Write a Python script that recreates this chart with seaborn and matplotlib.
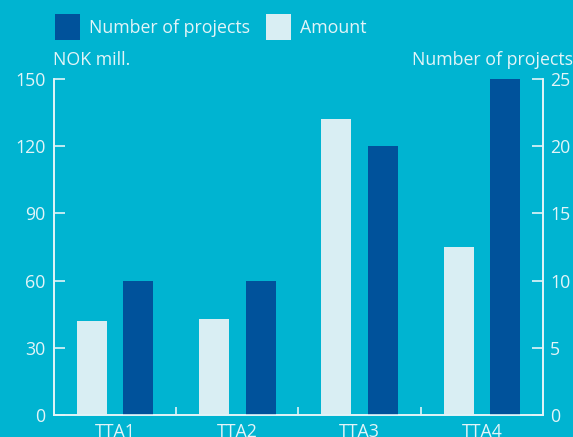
import numpy as np
import pandas as pd
import matplotlib
matplotlib.use("Agg")
import matplotlib.pyplot as plt
import seaborn as sns
from matplotlib.patches import Patch
from matplotlib.ticker import FixedLocator

categories = ["TTA1", "TTA2", "TTA3", "TTA4"]
amount = [42, 43, 132, 75]          # NOK mill.
projects = [10, 10, 20, 25]         # number of projects

bg = "#00b4d1"
light = "#d9eef3"
dark = "#00529b"
fg = "#e3f4f8"

sns.set_theme(style="white")
plt.rcParams["font.family"] = ["Open Sans", "DejaVu Sans"]
plt.rcParams["font.size"] = 12.8

order = ["Amount", "Number of projects"]
df_left = pd.DataFrame({"cat": categories * 2,
                        "series": ["Amount"] * 4 + ["Number of projects"] * 4,
                        "value": amount + [np.nan] * 4})
df_right = pd.DataFrame({"cat": categories * 2,
                         "series": ["Amount"] * 4 + ["Number of projects"] * 4,
                         "value": [np.nan] * 4 + projects})

fig = plt.figure(figsize=(5.73, 4.37), dpi=100, facecolor=bg)
ax = fig.add_axes([0.0942, 0.0503, 0.8534, 0.769])
ax.set_facecolor(bg)
ax2 = ax.twinx()

pal = {"Amount": light, "Number of projects": dark}
sns.barplot(data=df_left, x="cat", y="value", hue="series", hue_order=order,
            palette=pal, width=0.76, gap=0.355, saturation=1, ax=ax,
            legend=False, errorbar=None, linewidth=0)
sns.barplot(data=df_right, x="cat", y="value", hue="series", hue_order=order,
            palette=pal, width=0.76, gap=0.355, saturation=1, ax=ax2,
            legend=False, errorbar=None, linewidth=0)

ax.set_xlim(-0.5, 3.5)
ax.set_ylim(0, 150)
ax2.set_ylim(0, 25)
ax.set_yticks([0, 30, 60, 90, 120, 150])
ax2.set_yticks([0, 5, 10, 15, 20, 25])
ax.set_xlabel("")
ax.set_ylabel("")
ax2.set_ylabel("")

for a in (ax, ax2):
    for s in a.spines.values():
        s.set_color(fg)
        s.set_linewidth(1.2)
    a.spines["top"].set_visible(False)

ax.tick_params(axis="y", direction="in", length=8, width=1.2, color=fg,
               labelcolor=fg, pad=6, labelsize=12.8)
ax2.tick_params(axis="y", direction="in", length=8, width=1.2, color=fg,
                labelcolor=fg, pad=5, labelsize=12.8)
ax.tick_params(axis="x", which="major", length=0, labelcolor=fg, pad=6,
               labelsize=12.8)
ax.xaxis.set_minor_locator(FixedLocator([0.5, 1.5, 2.5]))
ax.tick_params(axis="x", which="minor", direction="in", length=6, width=1.2,
               color=fg, bottom=True)

fig.text(0.0925, 0.862, "NOK mill.", color=fg, fontsize=12.8, ha="left", va="center")
fig.text(1.0, 0.862, "Number of projects", color=fg, fontsize=12.8, ha="right", va="center")

handles = [Patch(facecolor=dark, edgecolor="none", label="Number of projects"),
           Patch(facecolor=light, edgecolor="none", label="Amount")]
fig.legend(handles=handles, loc="upper left", bbox_to_anchor=(0.068, 1.005),
           ncol=2, frameon=False, fontsize=12.8, labelcolor=fg,
           handlelength=1.4, handleheight=1.9, handletextpad=0.5,
           columnspacing=0.9)

fig.savefig("out.png", dpi=100, facecolor=bg)
